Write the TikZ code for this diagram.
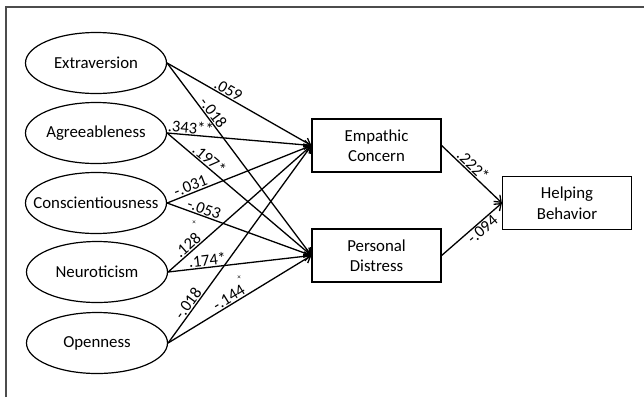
\documentclass[tikz,border=0pt]{standalone}
\usepackage{fontspec}
\setmainfont{Carlito}
\usetikzlibrary{arrows.meta,shapes.geometric}
\begin{document}
\begin{tikzpicture}[x=1pt,y=-1pt,
  trait/.style={draw,line width=1.2pt,ellipse,minimum width=141pt,minimum height=61pt,inner sep=0pt,
    label={[font=\fontsize{16.8}{20}\selectfont]center:#1}},
  box/.style={draw,line width=1.2pt,rectangle,minimum width=129pt,minimum height=53pt,inner sep=0pt,align=center,font=\fontsize{16.8}{20.5}\selectfont},
  conn/.style={line width=1.3pt,-{Straight Barb[length=6pt,width=9pt,line width=1.3pt]}},
  lab/.style={sloped,inner sep=1pt,font=\fontsize{16.5}{18}\selectfont},
  tiny/.style={inner sep=0pt,font=\fontsize{7}{8}\selectfont}]
\useasboundingbox (0,0) rectangle (644,397);
\draw[line width=2pt,black!70] (6,397) -- (6,6.5) -- (644,6.5);
\node[trait=Extraversion] (E) at (96,63) {};
\node[trait=Agreeableness] (A) at (96,133) {};
\node[trait=Conscientiousness] (C) at (96,203) {};
\node[trait=Neuroticism] (N) at (97,272) {};
\node[trait=Openness] (O) at (97,343) {};
\node[box] (EC) at (376.5,145.5) {Empathic\\Concern};
\node[box] (PD) at (376.5,255.5) {Personal\\Distress};
\node[box] (HB) at (567,203) {Helping\\Behavior};
\draw[conn] (E.east) -- node[lab,above,pos=0.40] {.059} (EC.west);
\draw[conn] (E.east) -- node[lab,above,pos=0.28] {-.018} (PD.west);
\draw[conn] (A.east) -- node[lab,above,pos=0.16] {.343**} (EC.west);
\draw[conn] (A.east) -- node[lab,above,pos=0.26] {.197*} (PD.west);
\draw[conn] (C.east) -- node[lab,above,pos=0.18] {-.031} (EC.west);
\draw[conn] (C.east) -- node[lab,above,pos=0.24] {-.053} (PD.west);
\draw[conn] (N.east) -- node[lab,above,pos=0.17] {.128} (EC.west);
\draw[conn] (N.east) -- node[lab,above,pos=0.28] {.174*} (PD.west);
\draw[conn] (O.east) -- node[lab,above,pos=0.18] {-.018} (EC.west);
\draw[conn] (O.east) -- node[lab,above,pos=0.45] {-.144} (PD.west);
\draw[conn] (EC.east) -- node[lab,above,pos=0.44] {.222*} (HB.west);
\draw[conn] (PD.east) -- node[lab,below,pos=0.60] {-.094} (HB.west);
\node[tiny] (x1) at (194,223) {×};
\node[tiny] (x2) at (239,278) {×};
\end{tikzpicture}
\end{document}
